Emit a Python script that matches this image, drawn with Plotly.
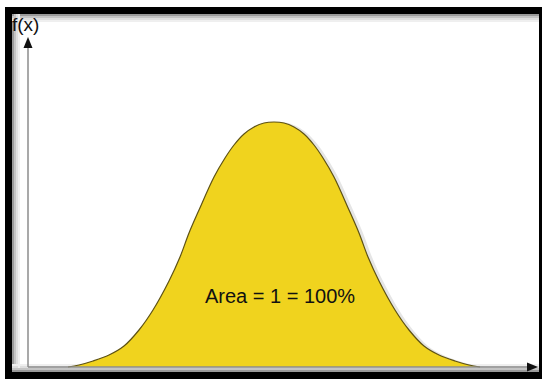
import plotly.graph_objects as go

W, H = 546, 379

# Bell curve read as offset from the centre (x) and height above the axis (f)
offsets = [0, 10, 20, 30, 40, 49, 60, 75, 85, 94, 105, 121, 135, 150, 165, 181, 195, 206]
heights = [245, 244, 240, 233, 222, 209, 190, 157, 134, 110, 86, 57, 37, 21, 12, 6, 2, 0]

xs = [-o for o in offsets[::-1]] + offsets[1:]
fs = heights[::-1] + heights[1:]

label_text = "Area = 1 = 100%"
axis_label = "f(x)"

# Axis geometry in pixels
CX = 274          # pixel column of the curve centre
BASE = 367        # pixel row of the horizontal axis


def px(x):
    return x / W


def py(y):
    return 1 - y / H


fig = go.Figure()

# soft shadow on the right side of the curve
fig.add_trace(go.Scatter(
    x=[v + 4 for v in xs], y=fs, mode="lines", line=dict(width=0, shape="spline"),
    fill="tozeroy", fillcolor="rgba(0,0,0,0.10)", hoverinfo="skip", showlegend=False))

fig.add_trace(go.Scatter(
    x=xs, y=fs, mode="lines",
    line=dict(color="#5e5214", width=1.2, shape="spline"),
    fill="tozeroy", fillcolor="#F0D31E", hoverinfo="skip", showlegend=False))

shapes = []

# frame with soft inner edge
for i, g in enumerate(["#9a9a9a", "#c4c4c4", "#dedede", "#efefef"]):
    shapes.append(dict(type="rect", xref="paper", yref="paper",
                       x0=px(12 + 2 * i), x1=px(14 + 2 * i), y0=py(368), y1=py(14),
                       line=dict(width=0), fillcolor=g, layer="below"))
    shapes.append(dict(type="rect", xref="paper", yref="paper",
                       x0=px(12), x1=px(540), y0=py(14 + 2 * i + 2), y1=py(14 + 2 * i),
                       line=dict(width=0), fillcolor=g, layer="below"))
    shapes.append(dict(type="rect", xref="paper", yref="paper",
                       x0=px(12), x1=px(540), y0=py(372 - 2 * i), y1=py(370 - 2 * i),
                       line=dict(width=0), fillcolor=g, layer="below"))

shapes += [
    dict(type="rect", xref="paper", yref="paper", x0=px(5), x1=px(12), y0=py(379), y1=py(7),
         line=dict(width=0), fillcolor="#000000"),
    dict(type="rect", xref="paper", yref="paper", x0=px(5), x1=px(542), y0=py(14), y1=py(7),
         line=dict(width=0), fillcolor="#000000"),
    dict(type="rect", xref="paper", yref="paper", x0=px(539), x1=px(542), y0=py(379), y1=py(7),
         line=dict(width=0), fillcolor="#000000"),
    dict(type="rect", xref="paper", yref="paper", x0=px(5), x1=px(542), y0=py(379), y1=py(372),
         line=dict(width=0), fillcolor="#000000"),
]

# axes with arrow heads
shapes += [
    dict(type="line", xref="paper", yref="paper", x0=px(28), x1=px(28), y0=py(BASE), y1=py(46),
         line=dict(color="#8c8c8c", width=1.5)),
    dict(type="line", xref="paper", yref="paper", x0=px(28), x1=px(530), y0=py(BASE), y1=py(BASE),
         line=dict(color="#8c8c8c", width=1.5)),
    dict(type="path", xref="paper", yref="paper",
         path=f"M {px(28)} {py(37)} L {px(23.5)} {py(48)} L {px(32.5)} {py(48)} Z",
         line=dict(width=0), fillcolor="#111111"),
    dict(type="path", xref="paper", yref="paper",
         path=f"M {px(538)} {py(BASE)} L {px(527)} {py(BASE - 4.5)} L {px(527)} {py(BASE + 4.5)} Z",
         line=dict(width=0), fillcolor="#111111"),
]

fig.update_layout(
    width=W, height=H,
    margin=dict(l=0, r=0, t=0, b=0),
    paper_bgcolor="white", plot_bgcolor="rgba(0,0,0,0)",
    xaxis=dict(range=[-CX, W - CX], visible=False, fixedrange=True),
    yaxis=dict(range=[BASE - H, BASE], visible=False, fixedrange=True),
    shapes=shapes,
    annotations=[
        dict(text=label_text, x=px(280), y=py(296), xref="paper", yref="paper",
             xanchor="center", yanchor="middle",
             showarrow=False, font=dict(family="Liberation Sans, Arial", size=20, color="#111111")),
        dict(text=axis_label, x=px(10), y=py(24), xref="paper", yref="paper",
             xanchor="left", yanchor="middle",
             showarrow=False, font=dict(family="Liberation Sans, Arial", size=19, color="#111111")),
    ],
    showlegend=False,
)

fig.write_html("out.html")
